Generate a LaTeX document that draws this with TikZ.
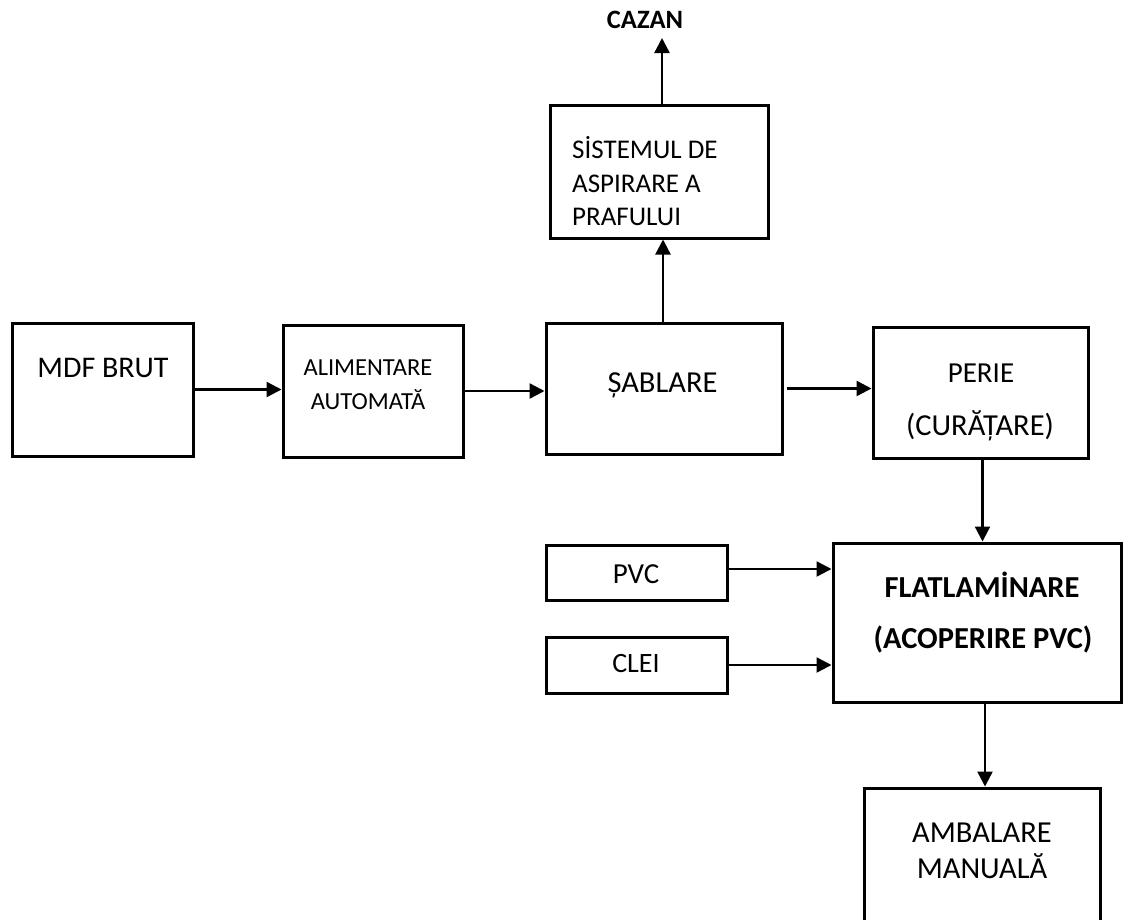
\documentclass[tikz,border=0pt]{standalone}
\usepackage{fontspec}
\setmainfont{Carlito}
\usetikzlibrary{arrows.meta}

\newcommand{\fs}[1]{\fontsize{#1}{#1}\selectfont}

\tikzset{
  box/.style={draw=black, line width=3pt, rectangle, inner sep=0pt, fill=white},
  lbl/.style={anchor=base, inner sep=0pt, text=black},
  lblw/.style={anchor=base west, inner sep=0pt, text=black},
  flow/.style={draw=black, line width=2.4pt, -{Triangle[length=15pt, width=15pt]}},
}

\begin{document}
\begin{tikzpicture}[x=1pt, y=-1pt]
  \useasboundingbox (0,0) rectangle (1124,919);
  \clip (0,0) rectangle (1124,919);

  % process blocks
  \node[box, minimum width=181pt, minimum height=133pt] (mdf)   at (102.5,389.5) {};
  \node[box, minimum width=180pt, minimum height=132pt] (alim)  at (373,391) {};
  \node[box, minimum width=236pt, minimum height=131pt] (sab)   at (664,388.5) {};
  \node[box, minimum width=215pt, minimum height=131pt] (perie) at (980.5,392.5) {};
  \node[box, minimum width=218pt, minimum height=133pt] (sis)   at (659,171.5) {};
  \node[box, minimum width=288pt, minimum height=159pt] (flat)  at (977,622.5) {};
  \node[box, minimum width=181pt, minimum height=55pt]  (pvc)   at (636.5,572.5) {};
  \node[box, minimum width=181pt, minimum height=56pt]  (clei)  at (636.5,665) {};
  \node[box, minimum width=236pt, minimum height=142pt] (amb)   at (982,859) {};

  % block texts
  \node[lbl, font=\fs{30}] (tmdf) at (103,377) {MDF BRUT};
  \node[lbl, font=\fs{24.5}] (talim1) at (368,375) {ALIMENTARE};
  \node[lbl, font=\fs{24.5}] (talim2) at (368,409) {AUTOMATĂ};
  \node[lbl, font=\fs{30.5}] (tsab) at (662.5,392) {ȘABLARE};
  \node[lbl, font=\fs{29}] (tperie1) at (981,382) {PERIE};
  \node[lbl, font=\fs{30.5}] (tperie2) at (980,435) {(CURĂȚARE)};
  \node[lblw, font=\fs{27}] (tsis1) at (572,158) {SİSTEMUL DE};
  \node[lblw, font=\fs{27}] (tsis2) at (572,192) {ASPIRARE A};
  \node[lblw, font=\fs{27}] (tsis3) at (572,225) {PRAFULUI};
  \node[lbl, font=\fs{26.5}\bfseries] (cazan) at (645,28) {CAZAN};
  \node[lbl, font=\fs{30.5}\bfseries] (tflat1) at (982,597) {FLATLAMİNARE};
  \node[lbl, font=\fs{30.5}\bfseries] (tflat2) at (983,648) {(ACOPERIRE PVC)};
  \node[lbl, font=\fs{29}] (tpvc) at (636,583) {PVC};
  \node[lbl, font=\fs{28}] (tclei) at (636,672) {CLEI};
  \node[lbl, font=\fs{30.5}] (tamb1) at (982,842) {AMBALARE};
  \node[lbl, font=\fs{30.5}] (tamb2) at (982,878) {MANUALĂ};

  \coordinate (cazanin) at (662,38);

  % material flow
  \draw[flow] (mdf.east) -- (mdf.east -| alim.west);
  \draw[flow] (alim.east) -- (alim.east -| sab.west);
  \draw[flow, shorten <=3pt] (sab.east) -- (sab.east -| perie.west);
  \draw[flow] ([xshift=-1pt]sab.north) -- ([xshift=-1pt]sab.north |- sis.south);
  \draw[flow] (sis.north -| cazanin) -- (cazanin);
  \draw[flow] ([xshift=2pt]perie.south) -- ([xshift=2pt]perie.south |- flat.north);
  \draw[flow] ([yshift=3.5pt]pvc.east) -- ([yshift=3.5pt]pvc.east -| flat.west);
  \draw[flow] (clei.east) -- (clei.east -| flat.west);
  \draw[flow] ([xshift=3pt]amb.north |- flat.south) -- ([xshift=3pt]amb.north);
\end{tikzpicture}
\end{document}
